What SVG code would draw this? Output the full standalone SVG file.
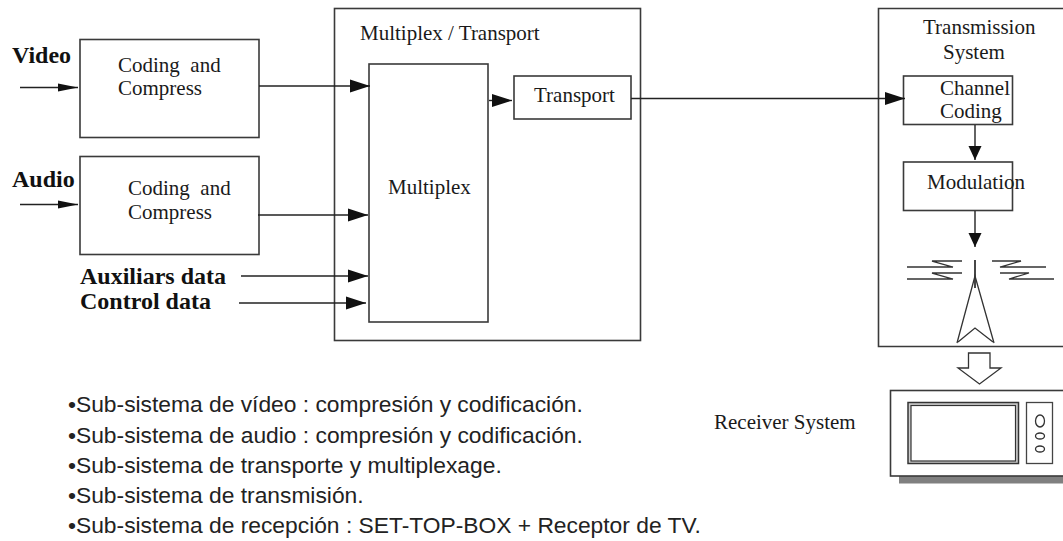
<svg xmlns="http://www.w3.org/2000/svg" width="1063" height="541" viewBox="0 0 1063 541">
<style>
.b{fill:#fff;stroke:#3a3a3a;stroke-width:1.6}
.l{fill:none;stroke:#222;stroke-width:1.4}
.t{font-family:"Liberation Serif",serif;font-size:21px;fill:#1a1a1a}
.h{font-family:"Liberation Serif",serif;font-size:24px;font-weight:bold;fill:#111}
.s{font-family:"Liberation Sans",sans-serif;font-size:22.8px;fill:#222}
.a{fill:#111;stroke:none}
</style>
<defs><marker id="ar" markerUnits="userSpaceOnUse" markerWidth="20" markerHeight="14" refX="20" refY="7" orient="auto"><path class="a" d="M0 0.500L20 7L0 13.500Z"/></marker>
<marker id="ars" markerUnits="userSpaceOnUse" markerWidth="20" markerHeight="10" refX="20" refY="5" orient="auto"><path class="a" d="M0 1L20 5L0 9Z"/></marker>
<marker id="arv" markerUnits="userSpaceOnUse" markerWidth="14" markerHeight="14" refX="14" refY="7" orient="auto"><path class="a" d="M0 0.500L14 7L0 13.500Z"/></marker></defs>
<rect width="1063" height="541" fill="#fff"/>
<g id="mux-transport"><rect class="b" x="334.500" y="8.500" width="306" height="332"/><text class="t" x="360" y="40">Multiplex / Transport</text></g>
<g id="coding-video"><rect class="b" x="80" y="39.500" width="179" height="98"/><text class="t" x="118" y="72" xml:space="preserve">Coding  and</text><text class="t" x="118" y="95">Compress</text></g>
<g id="coding-audio"><rect class="b" x="80" y="156.500" width="179" height="98"/><text class="t" x="128" y="195" xml:space="preserve">Coding  and</text><text class="t" x="128" y="219">Compress</text></g>
<g id="multiplex"><rect class="b" x="369" y="64" width="119" height="258"/><text class="t" x="388" y="194">Multiplex</text></g>
<g id="transport"><rect class="b" x="514" y="76" width="117" height="43"/><text class="t" x="534" y="102">Transport</text></g>
<g id="transmission"><path class="b" d="M1064 8.500H878.500V346.500H1064"/><text class="t" x="923" y="34">Transmission</text><text class="t" x="943" y="59">System</text></g>
<g id="channel-coding"><rect class="b" x="903.500" y="76" width="109" height="48.500"/><text class="t" x="940" y="95">Channel</text><text class="t" x="940" y="118">Coding</text></g>
<g id="modulation"><rect class="b" x="903.500" y="162" width="109" height="48.500"/><text class="t" x="927" y="189">Modulation</text></g>
<g id="antenna" fill="none" stroke="#333" stroke-width="1.3">
<path d="M975 260V288" stroke-width="1.8"/><path d="M957 343L975 276L994 343"/><path d="M958 342L975 328L993 342"/>
<path d="M962 261H932L953 267H907M962 273H932L953 279H907"/>
<path d="M992 261H1021L1000 267H1046M1000 273H1029L1009 279H1054"/>
</g>
<g id="down-arrow"><path fill="#fff" stroke="#333" stroke-width="1.3" d="M968.500 353H990V368H1001L979.500 384L958 368H968.500Z"/></g>
<g id="receiver"><rect x="899" y="476" width="170" height="7.500" fill="#808080"/><rect class="b" x="890.500" y="390.500" width="180" height="85.500"/>
<rect x="908" y="402.500" width="110.500" height="61" fill="#ccc" stroke="#333" stroke-width="1.5"/><rect x="911" y="405.500" width="104.500" height="55.500" fill="#fff" stroke="#333" stroke-width="1.2"/>
<rect x="1026.500" y="402.500" width="26" height="61" fill="#fff" stroke="#444" stroke-width="1.3"/>
<g fill="#fff" stroke="#333" stroke-width="1.3"><ellipse cx="1040" cy="421" rx="4.500" ry="6"/><ellipse cx="1040" cy="436" rx="4.500" ry="3"/><ellipse cx="1040" cy="449" rx="4.500" ry="3"/></g>
<text class="t" x="714" y="429">Receiver System</text></g>
<g id="connectors">
<path class="l" marker-end="url(#ars)" d="M20 87.500H78"/>
<path class="l" marker-end="url(#ars)" d="M20 204.500H78"/>
<path class="l" marker-end="url(#ar)" d="M259 86H370"/>
<path class="l" marker-end="url(#ar)" d="M258 215H368"/>
<path class="l" marker-end="url(#ar)" d="M241 276H368"/>
<path class="l" marker-end="url(#ar)" d="M239 303H366"/>
<path class="l" marker-end="url(#ar)" d="M489 100.500H512"/>
<path class="l" marker-end="url(#ar)" d="M631 98.500H905"/>
<path class="l" marker-end="url(#arv)" d="M975 125V160"/>
<path class="l" marker-end="url(#arv)" d="M975 211V247"/>
</g>
<g id="labels">
<text class="h" x="12" y="63">Video</text><text class="h" x="12" y="187">Audio</text>
<text class="h" x="80" y="284">Auxiliars data</text><text class="h" x="80" y="309">Control data</text>
<text class="s" x="68" y="412">•Sub-sistema de vídeo : compresión y codificación.</text>
<text class="s" x="68" y="443">•Sub-sistema de audio : compresión y codificación.</text>
<text class="s" x="68" y="473">•Sub-sistema de transporte y multiplexage.</text>
<text class="s" x="68" y="503">•Sub-sistema de transmisión.</text>
<text class="s" x="68" y="533">•Sub-sistema de recepción : SET-TOP-BOX + Receptor de TV.</text>
</g>
</svg>
